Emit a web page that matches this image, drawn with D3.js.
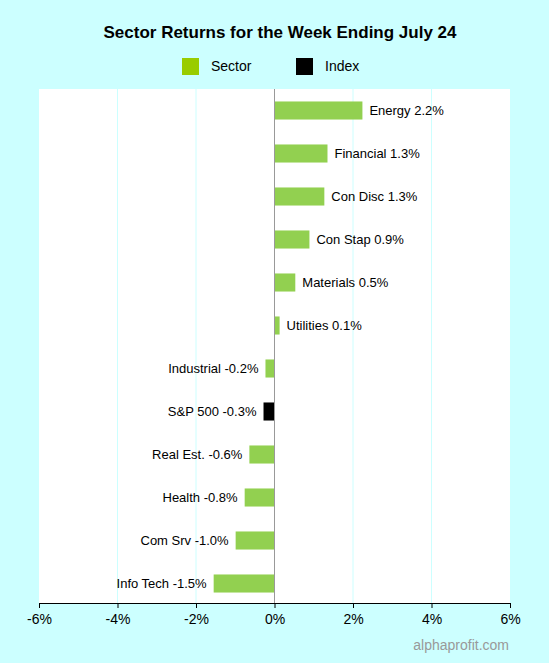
<!DOCTYPE html>
<html><head><meta charset="utf-8">
<script src="https://cdn.jsdelivr.net/npm/d3@7"></script>
<style>body{margin:0;background:#ccffff;font-family:Arial,"Liberation Sans",sans-serif;}</style>
</head><body><div id="chart"></div>
<script>
// data
var sectors = ["Energy", "Financial", "Con Disc", "Con Stap", "Materials", "Utilities",
    "Industrial", "S&P 500", "Real Est.", "Health", "Com Srv", "Info Tech"];
var returns = [2.24, 1.35, 1.27, 0.89, 0.53, 0.13, -0.23, -0.28, -0.64, -0.76, -0.99, -1.55];
var labels = ["2.2%", "1.3%", "1.3%", "0.9%", "0.5%", "0.1%", "-0.2%", "-0.3%", "-0.6%", "-0.8%", "-1.0%", "-1.5%"];
var isIndex = [0, 0, 0, 0, 0, 0, 0, 1, 0, 0, 0, 0];
var ticks = [-6, -4, -2, 0, 2, 4, 6];

var W = 549, H = 663;
var svg = d3.select("#chart").append("svg").attr("width", W).attr("height", H);
svg.append("rect").attr("width", W).attr("height", H).attr("fill", "#ccffff");

var x = d3.scaleLinear().domain([-6, 6]).range([39, 510]);
var y = d3.scaleBand().domain(sectors).range([89, 605]).paddingInner(0.58).paddingOuter(0.29);

svg.append("rect").attr("x", 39).attr("y", 89).attr("width", 471).attr("height", 514).attr("fill", "white");

// grid
svg.selectAll(".grid").data(ticks.filter(function (d) { return d != 0 && Math.abs(d) != 6; }))
    .enter().append("line")
    .attr("x1", function (d) { return x(d); }).attr("x2", function (d) { return x(d); })
    .attr("y1", 89).attr("y2", 603).attr("stroke", "#ccffff");

// bars
svg.selectAll(".bar").data(sectors).enter().append("rect")
    .attr("x", function (d, i) { return x(Math.min(0, returns[i])); })
    .attr("y", function (d) { return y(d); })
    .attr("width", function (d, i) { return Math.abs(x(returns[i]) - x(0)); })
    .attr("height", y.bandwidth())
    .attr("fill", function (d, i) { return isIndex[i] ? "#000" : "#92d050"; });

svg.append("line").attr("x1", x(0)).attr("x2", x(0)).attr("y1", 89).attr("y2", 603).attr("stroke", "#999");

// labels
svg.selectAll(".lbl").data(sectors).enter().append("text")
    .attr("x", function (d, i) { return returns[i] >= 0 ? x(returns[i]) + 7 : x(returns[i]) - 7; })
    .attr("y", function (d) { return y(d) + y.bandwidth() / 2 + 4.5; })
    .attr("text-anchor", function (d, i) { return returns[i] >= 0 ? "start" : "end"; })
    .attr("font-size", "13px")
    .text(function (d, i) { return d + " " + labels[i]; });

// x axis
var ax = svg.append("g").attr("transform", "translate(0,603)")
    .call(d3.axisBottom(x).tickValues(ticks).tickSize(5).tickFormat(function (d) { return d + "%"; }));
ax.select(".domain").attr("stroke", "#000");
ax.selectAll("text").attr("font-size", "14px").attr("font-family", "Arial,Liberation Sans,sans-serif").attr("dy", "0.9em");

// title, legend, footer
svg.append("text").attr("x", 280).attr("y", 38).attr("text-anchor", "middle")
    .attr("font-size", "17px").attr("font-weight", "bold").text("Sector Returns for the Week Ending July 24");
svg.append("rect").attr("x", 182).attr("y", 58).attr("width", 17).attr("height", 17).attr("fill", "#99cc00");
svg.append("text").attr("x", 211).attr("y", 71).attr("font-size", "14px").text("Sector");
svg.append("rect").attr("x", 296).attr("y", 58).attr("width", 17).attr("height", 17).attr("fill", "#000");
svg.append("text").attr("x", 325).attr("y", 71).attr("font-size", "14px").text("Index");
svg.append("text").attr("x", 509).attr("y", 650).attr("text-anchor", "end")
    .attr("font-size", "14px").attr("fill", "#999").text("alphaprofit.com");
</script></body></html>
